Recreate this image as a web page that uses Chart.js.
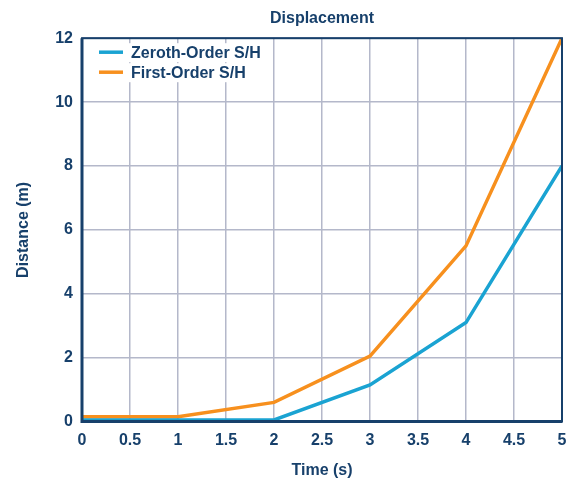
<!DOCTYPE html>
<html>
<head>
<meta charset="utf-8">
<script src="https://cdn.jsdelivr.net/npm/chart.js@4/dist/chart.umd.min.js"></script>
<style>
  html, body { margin: 0; padding: 0; background: #fff; }
  #wrap { width: 568px; height: 480px; }
</style>
</head>
<body>
<div id="wrap"><canvas id="dispChart" width="568" height="480"></canvas></div>
<script>
const times = [0, 1, 2, 3, 4, 5];
const zerothOrder = [0.05, 0.05, 0.05, 1.15, 3.1, 8];
const firstOrder = [0.15, 0.15, 0.6, 2.05, 5.5, 12];
const xTicks = [0, 0.5, 1, 1.5, 2, 2.5, 3, 3.5, 4, 4.5, 5];
const yTicks = [0, 2, 4, 6, 8, 10, 12];

const navy = '#17406b';
const gridColor = '#b4b8ca';
const fontFamily = '"Liberation Sans", Arial, sans-serif';

// box round the plot, heavier on the left and bottom
const frame = {
    id: 'frame',
    afterDraw(chart) {
        const a = chart.chartArea;
        const ctx = chart.ctx;
        ctx.save();
        ctx.strokeStyle = navy;
        ctx.lineWidth = 2;
        ctx.strokeRect(a.left, a.top, a.right - a.left, a.bottom - a.top);
        ctx.lineWidth = 3;
        ctx.beginPath();
        ctx.moveTo(a.left, a.top);
        ctx.lineTo(a.left, a.bottom);
        ctx.lineTo(a.right, a.bottom);
        ctx.stroke();
        ctx.restore();
    }
};

// legend drawn inside the top left of the plot
const innerLegend = {
    id: 'innerLegend',
    afterDatasetsDraw(chart) {
        const a = chart.chartArea;
        const ctx = chart.ctx;
        ctx.save();
        chart.data.datasets.forEach((ds, i) => {
            const y = a.top + 14 + i * 20;
            ctx.fillStyle = '#fff';
            ctx.fillRect(a.left + 12, y - 9, 170, 19);
            ctx.strokeStyle = ds.borderColor;
            ctx.lineWidth = 3.5;
            ctx.beginPath();
            ctx.moveTo(a.left + 17, y);
            ctx.lineTo(a.left + 41, y);
            ctx.stroke();
            ctx.fillStyle = navy;
            ctx.font = 'bold 16px ' + fontFamily;
            ctx.textBaseline = 'middle';
            ctx.fillText(ds.label, a.left + 49, y + 1);
        });
        ctx.restore();
    }
};

Chart.defaults.font.family = fontFamily;
Chart.defaults.font.weight = 'bold';
Chart.defaults.color = navy;

new Chart(document.getElementById('dispChart'), {
    type: 'line',
    data: {
        datasets: [{
            label: 'Zeroth-Order S/H',
            data: times.map((t, i) => ({ x: t, y: zerothOrder[i] })),
            borderColor: '#1aa3d2',
            backgroundColor: '#1aa3d2',
            borderWidth: 3.5,
            pointRadius: 0,
            tension: 0
        }, {
            label: 'First-Order S/H',
            data: times.map((t, i) => ({ x: t, y: firstOrder[i] })),
            borderColor: '#f7901e',
            backgroundColor: '#f7901e',
            borderWidth: 3.5,
            pointRadius: 0,
            tension: 0
        }]
    },
    options: {
        responsive: false,
        animation: false,
        layout: { padding: { left: 11, right: 0, top: 0, bottom: 0 } },
        plugins: {
            title: {
                display: true,
                fullSize: false,
                text: 'Displacement',
                font: { size: 16, weight: 'bold' },
                color: navy,
                padding: { top: 9, bottom: 10 }
            },
            legend: { display: false },
            tooltip: { enabled: false }
        },
        scales: {
            x: {
                type: 'linear',
                min: 0,
                max: 5,
                afterBuildTicks: axis => { axis.ticks = xTicks.map(v => ({ value: v })); },
                afterFit: axis => { axis.paddingRight = 6; },
                ticks: {
                    font: { size: 16, weight: 'bold' },
                    color: navy,
                    padding: 9,
                    callback: v => String(v)
                },
                grid: { color: gridColor, lineWidth: 1.5, drawTicks: false },
                border: { display: false },
                title: {
                    display: true,
                    text: 'Time (s)',
                    font: { size: 16, weight: 'bold' },
                    color: navy,
                    padding: { top: 2, bottom: 0 }
                }
            },
            y: {
                type: 'linear',
                min: 0,
                max: 12,
                afterBuildTicks: axis => { axis.ticks = yTicks.map(v => ({ value: v })); },
                ticks: {
                    font: { size: 16, weight: 'bold' },
                    color: navy,
                    padding: 9,
                    callback: v => String(v)
                },
                grid: { color: gridColor, lineWidth: 1.5, drawTicks: false },
                border: { display: false },
                title: {
                    display: true,
                    text: 'Distance (m)',
                    font: { size: 16, weight: 'bold' },
                    color: navy,
                    padding: { top: 3, bottom: 13 }
                }
            }
        }
    },
    plugins: [frame, innerLegend]
});
</script>
</body>
</html>
